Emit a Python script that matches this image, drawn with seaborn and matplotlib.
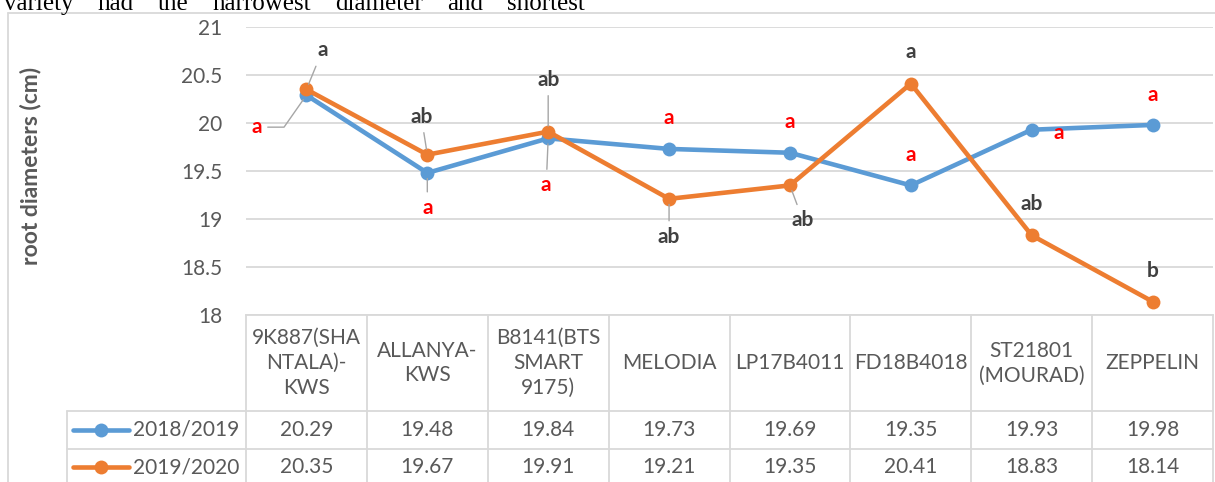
import numpy as np
import pandas as pd
import matplotlib
matplotlib.use("Agg")
import matplotlib.pyplot as plt
import seaborn as sns

# ------------------------- Data -------------------------
varieties = ["9K887(SHA\nNTALA)-\nKWS", "ALLANYA-\nKWS", "B8141(BTS\nSMART\n9175)", "MELODIA",
             "LP17B4011", "FD18B4018", "ST21801\n(MOURAD)", "ZEPPELIN"]
seasons = ["2018/2019", "2019/2020"]
diam_1819 = [20.29, 19.48, 19.84, 19.73, 19.69, 19.35, 19.93, 19.98]
diam_1920 = [20.35, 19.67, 19.91, 19.21, 19.35, 20.41, 18.83, 18.14]
letters_1819 = ["a", "a", "a", "a", "a", "a", "a", "a"]
letters_1920 = ["a", "ab", "ab", "ab", "ab", "a", "ab", "b"]
y_ticks = [18, 18.5, 19, 19.5, 20, 20.5, 21]

# label placement (offset pixels from the point) and leader flags
off_1819 = [(-50, -32), (0, -35), (-2, -47), (0, 31), (0, 31), (0, 30), (27, -3), (0, 30)]
off_1920 = [(16, 39), (-6, 38), (0, 52), (0, -38), (13, -35), (0, 32), (0, 31), (0, 31)]
lead_1819 = [True, True, True, False, False, False, False, False]
lead_1920 = [True, True, True, True, True, False, False, False]

# ------------------------- Style -------------------------
blue, orange = "#5B9BD5", "#ED7D31"
txt_gray = "#595959"
grid_gray = "#D9D9D9"
lead_gray = "#A6A6A6"

sns.set_theme(style="white")
plt.rcParams["font.family"] = ["Lato", "DejaVu Sans"]

W, H = 1215, 482
fig = plt.figure(figsize=(W / 100, H / 100), dpi=100)


def fx(px):
    return px / W


def fy(py):
    return 1 - py / H


plot_l, plot_r, plot_t, plot_b = 246, 1213, 27, 315
ax = fig.add_axes([fx(plot_l), fy(plot_b), fx(plot_r - plot_l), (plot_b - plot_t) / H])

df = pd.DataFrame({
    "pos": list(range(len(varieties))) * 2,
    "value": diam_1819 + diam_1920,
    "season": [seasons[0]] * len(varieties) + [seasons[1]] * len(varieties),
})

sns.lineplot(data=df, x="pos", y="value", hue="season", palette=[blue, orange],
             marker="o", markersize=10, markeredgewidth=0, linewidth=3.3,
             legend=False, sort=False, ax=ax)

ax.set_xlim(-0.5, len(varieties) - 0.5)
ax.set_ylim(18, 21)
ax.set_yticks(y_ticks)
ax.set_yticklabels([f"{t:g}" for t in y_ticks])
ax.set_xticks([])
ax.set_xlabel("")
ax.set_ylabel("")
ax.tick_params(axis="y", length=0, pad=17, labelsize=15, labelcolor=txt_gray)
ax.yaxis.grid(True, color=grid_gray, linewidth=1.3)
ax.set_axisbelow(True)
for s in ["left", "right", "top"]:
    ax.spines[s].set_visible(False)
ax.spines["bottom"].set_color(grid_gray)
ax.spines["bottom"].set_linewidth(1.3)

# ------------------------- Significance letters -------------------------
def add_letters(vals, letters, offs, leads, color, bent_first=False):
    for i, (v, lt, off, ld) in enumerate(zip(vals, letters, offs, leads)):
        arrow = None
        if ld:
            arrow = dict(arrowstyle="-", color=lead_gray, lw=1.0, shrinkA=2, shrinkB=4)
            if bent_first and i == 0:
                arrow["connectionstyle"] = "angle,angleA=0,angleB=55,rad=0"
        ax.annotate(lt, xy=(i, v), xytext=off, textcoords="offset pixels",
                    ha="center", va="center", fontsize=15, fontweight="bold",
                    color=color, arrowprops=arrow, annotation_clip=False, zorder=5)


add_letters(diam_1819, letters_1819, off_1819, lead_1819, "#FF0000", bent_first=True)
add_letters(diam_1920, letters_1920, off_1920, lead_1920, "#404040")

# ------------------------- Data table below the chart -------------------------
tab = fig.add_axes([0, 0, 1, 1])
tab.set_xlim(0, W)
tab.set_ylim(H, 0)
tab.axis("off")

col_w = (plot_r - plot_l) / len(varieties)
edges = [plot_l + k * col_w for k in range(len(varieties) + 1)]
centers = [plot_l + (k + 0.5) * col_w for k in range(len(varieties))]
leg_l = 67
hdr_bot, row1_bot = 411, 449

for yy in [hdr_bot, row1_bot]:
    tab.plot([leg_l, plot_r], [yy, yy], color=grid_gray, lw=1.3)
for xx in edges:
    tab.plot([xx, xx], [plot_b, H], color=grid_gray, lw=1.3)
tab.plot([leg_l, leg_l], [hdr_bot, H], color=grid_gray, lw=1.3)

for cx, name in zip(centers, varieties):
    tab.text(cx, (plot_b + hdr_bot) / 2, name, ha="center", va="center",
             multialignment="center", fontsize=15, color=txt_gray, linespacing=1.3)

row_y = [(hdr_bot + row1_bot) / 2, row1_bot + 18]
for ry, vals, col, lab in zip(row_y, [diam_1819, diam_1920], [blue, orange], seasons):
    for cx, v in zip(centers, vals):
        tab.text(cx, ry, f"{v:.2f}", ha="center", va="center", fontsize=15, color=txt_gray)
    tab.plot([73, 129], [ry, ry], color=col, lw=3.3, solid_capstyle="round")
    tab.plot([101], [ry], marker="o", markersize=10, color=col, markeredgewidth=0)
    tab.text(133, ry, lab, ha="left", va="center", fontsize=15, color=txt_gray)

# chart frame
tab.plot([8, 8], [13, H], color=grid_gray, lw=1.3)
tab.plot([8, W], [13, 13], color=grid_gray, lw=1.3)

# axis title
fig.text(fx(31), fy(166), "root diameters (cm)", rotation=90, ha="center", va="center",
         fontsize=16.5, fontweight="bold", color=txt_gray)

# cropped line of body text above the chart (justified)
words = "variety had the narrowest diameter and shortest".split()
wt = [fig.text(0, fy(10), w, fontsize=18, family="Liberation Serif", color="black",
               va="baseline", ha="left") for w in words]
renderer = fig.canvas.get_renderer()
widths = [t.get_window_extent(renderer).width for t in wt]
x0, x1 = 4, 585
gap = (x1 - x0 - sum(widths)) / (len(words) - 1)
xpos = x0
for t, w in zip(wt, widths):
    t.set_x(fx(xpos))
    xpos += w + gap

fig.savefig("out.png", dpi=100)
